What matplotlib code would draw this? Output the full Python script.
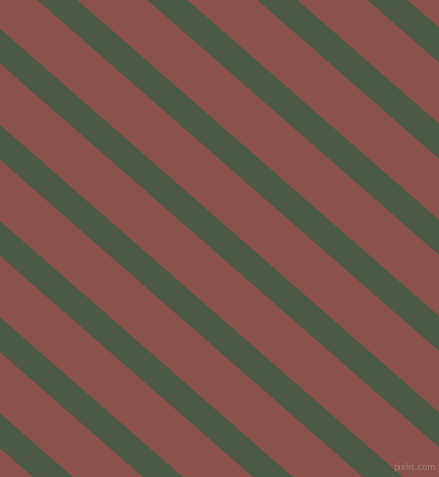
import matplotlib
matplotlib.use('Agg')
import matplotlib.pyplot as plt

W, H = 439, 477

bg_color = '#8b524d'
stripe_color = '#4b5945'

# x where each green stripe starts on the top edge (px), stripe width along the top edge
stripe_starts = [-623, -513, -403, -293, -183, -73, 37, 147, 257, 367]
stripe_width = 40
slope = 0.874  # dy/dx of the stripes

fig = plt.figure(figsize=((W + 0.2) / 100, (H + 0.2) / 100), dpi=100)
ax = fig.add_axes([0, 0, 1, 1])
ax.set_xlim(0, W)
ax.set_ylim(H, 0)
ax.axis('off')
fig.patch.set_facecolor(bg_color)
ax.set_facecolor(bg_color)

dx = H / slope
for x0 in stripe_starts:
    xs = [x0, x0 + stripe_width, x0 + stripe_width + dx, x0 + dx]
    ys = [0, 0, H, H]
    ax.fill(xs, ys, color=stripe_color, linewidth=0, antialiased=True)

ax.text(435, 467, 'pixlis.com', fontsize=6, color='#b0a0a0', alpha=0.6,
        ha='right', va='center')

fig.savefig('out.png', dpi=100, facecolor=bg_color)
